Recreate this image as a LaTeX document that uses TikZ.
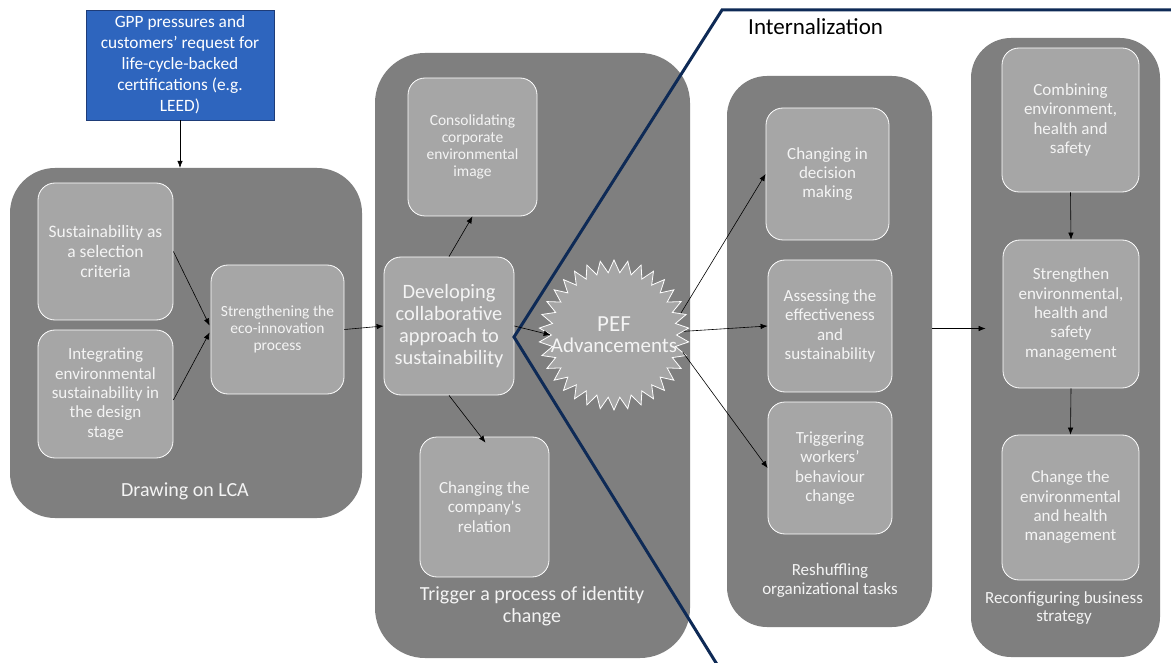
\documentclass[tikz,border=0pt]{standalone}
\usepackage{fontspec}
\setmainfont{Carlito}
\usetikzlibrary{shapes.geometric,arrows.meta,calc}
\definecolor{grpgray}{RGB}{127,127,127}
\definecolor{boxgray}{RGB}{166,166,166}
\definecolor{bluebox}{RGB}{46,101,190}
\definecolor{blueedge}{RGB}{30,60,120}
\definecolor{navy}{RGB}{14,42,86}
\definecolor{ltext}{RGB}{244,244,244}
\tikzset{
  grp/.style={fill=grpgray, draw=none, rounded corners=45pt, inner sep=0pt},
  inbox/.style={fill=boxgray, draw=white, line width=0.8pt, rounded corners=17pt, text=ltext, align=center, inner sep=0pt},
  glabel/.style={text=ltext, align=center, inner sep=0pt},
  arr/.style={draw=black, line width=0.6pt, -{Latex[length=7pt,width=5.5pt]}},
  fA/.style={font=\fontsize{17.5}{20}\selectfont},
  fB/.style={font=\fontsize{17}{19.3}\selectfont},
  fC/.style={font=\fontsize{15.5}{17.3}\selectfont},
  fD/.style={font=\fontsize{20.4}{22}\selectfont},
}
\begin{document}
\begin{tikzpicture}[x=1pt,y=-1pt]
\useasboundingbox (0,0) rectangle (1171,663);
\fill[white] (0,0) rectangle (1171,663);

% groups
\node[grp, minimum width=352pt, minimum height=350pt] (grp1) at (186,343) {};
\node[grp, minimum width=315pt, minimum height=605pt, rounded corners=50pt] (grp2) at (532.5,355.5) {};
\node[grp, minimum width=205pt, minimum height=551pt, rounded corners=40pt] (grp3) at (829.5,351.5) {};
\node[grp, minimum width=189pt, minimum height=619pt, rounded corners=40pt] (grp4) at (1065.5,347.5) {};

% group labels
\node[glabel, font=\fontsize{20}{22}\selectfont] (lab1) at (185,491) {Drawing on LCA};
\node[glabel, font=\fontsize{20}{22}\selectfont] (lab2) at (532,606) {Trigger a process of identity\\change};
\node[glabel, fB] (lab3) at (830,580.5) {Reshuffling\\organizational tasks};
\node[glabel, font=\fontsize{17}{18.5}\selectfont] (lab4) at (1064,608) {Reconfiguring business\\strategy};

% blue box
\node[fill=bluebox, draw=blueedge, line width=0.6pt, text=white, align=center, inner sep=0pt,
  minimum width=188pt, minimum height=110pt, font=\fontsize{17.3}{21}\selectfont] (gpp) at (180,65)
  {GPP pressures and\\customers’ request for\\life-cycle-backed\\certifications (e.g.\\LEED)};

% inner boxes, group 1
\node[inbox, fA, minimum width=135pt, minimum height=137pt] (s1) at (105.5,251.5) {Sustainability as\\a selection\\criteria};
\node[inbox, fB, minimum width=135pt, minimum height=128pt] (s2) at (105.5,394) {Integrating\\environmental\\sustainability in\\the design\\stage};
\node[inbox, fC, minimum width=133pt, minimum height=129pt] (s3) at (277.5,329.5) {Strengthening the\\eco-innovation\\process};

% group 2
\node[inbox, fC, minimum width=129pt, minimum height=138pt] (c1) at (472.5,147) {Consolidating\\corporate\\environmental\\image};
\node[inbox, fD, minimum width=130pt, minimum height=138pt] (c2) at (449,326) {Developing\\collaborative\\approach to\\sustainability};
\node[inbox, fB, minimum width=129pt, minimum height=140pt] (c3) at (484.5,507) {Changing the\\company\textquotesingle s\\relation};

% group 3
\node[inbox, fB, minimum width=123pt, minimum height=132pt] (r1) at (827.5,174) {Changing in\\decision\\making};
\node[inbox, fB, minimum width=124pt, minimum height=132pt] (r2) at (830,326) {Assessing the\\effectiveness\\and\\sustainability};
\node[inbox, fB, minimum width=124pt, minimum height=132pt] (r3) at (830,468) {Triggering\\workers’\\behaviour\\change};

% group 4
\node[inbox, fB, minimum width=137pt, minimum height=144pt] (b1) at (1070.5,120) {Combining\\environment,\\health and\\safety};
\node[inbox, fB, minimum width=136pt, minimum height=148pt] (b2) at (1071,314) {Strengthen\\environmental,\\health and\\safety\\management};
\node[inbox, fB, minimum width=137pt, minimum height=145pt] (b3) at (1070.5,507.5) {Change the\\environmental\\and health\\management};

% internalization boundary
\coordinate (vtx) at (514,337);
\coordinate (ltop) at (722,10);
\coordinate (lbot) at (718,666);
\coordinate (lright) at (1175,10);
\draw[navy, line width=3pt, line join=miter] (lbot) -- (vtx) -- (ltop) -- (lright);
\node[anchor=west, inner sep=0pt, font=\fontsize{23}{24}\selectfont, text=black] (intl) at (748,27) {Internalization};

% PEF starburst
\node[star, star points=34, star point ratio=1.2, minimum size=150pt, inner sep=0pt,
  fill=boxgray, draw=white, line width=0.8pt] (pef) at (614,335) {};
\node[glabel, font=\fontsize{21}{21}\selectfont] (peftxt) at (614,335) {{\fontsize{23}{21}\selectfont PEF}\\Advancements};

% connectors
\draw[arr] (gpp.south) -- (gpp.south |- grp1.north);
\draw[arr] (s1.east) -- ($(s3.west)+(-1,-4)$);
\draw[arr] ($(s2.east)+(0,6)$) -- ($(s3.west)+(-1,3)$);
\draw[arr] (s3.east) -- (c2.west);
\draw[arr] (c2.north) -- (c1.south);
\draw[arr] (c2.south) -- ($(c3.north)+(1,6)$);
\draw[arr] (c2.east) -- (pef.west);
\draw[arr] (pef.18) -- (r1.west);
\draw[arr] (pef.3) -- (r2.west);
\draw[arr] (pef.-14) -- (r3.west);
\coordinate (rb) at ($(b2.west |- grp3.east)+(-17,-23)$);
\draw[arr] (grp3.east |- rb) -- (rb);
\draw[arr] (b1.south) -- (b2.north);
\draw[arr] (b2.south) -- (b3.north);
\end{tikzpicture}
\end{document}
